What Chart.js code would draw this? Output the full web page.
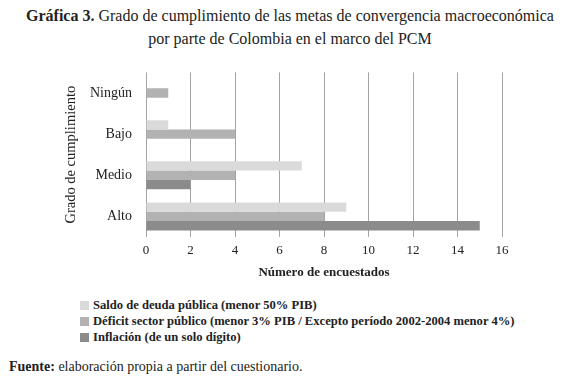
<!DOCTYPE html>
<html>
<head>
<meta charset="utf-8">
<script src="https://cdn.jsdelivr.net/npm/chart.js@4"></script>
<style>
    body { margin: 0; background: #fff; font-family: 'Liberation Serif', serif; color: #222; }
    #wrap { position: relative; width: 580px; height: 384px; }
    #title { position: absolute; top: 4px; left: 0; width: 580px; text-align: center; font-size: 16px; line-height: 23px; }
    #chartBox { position: absolute; left: 0; top: 58px; width: 580px; height: 226px; }
    #legend { position: absolute; left: 80px; top: 297px; font-size: 12.6px; font-weight: bold; line-height: 16px; }
    #legend .sw { display: inline-block; width: 9px; height: 9px; margin-right: 4px; vertical-align: -1px; }
    #source { position: absolute; left: 9px; top: 359px; font-size: 14px; }
</style>
</head>
<body>
<div id="wrap">
    <div id="title"><b>Gráfica 3.</b> Grado de cumplimiento de las metas de convergencia macroeconómica<br>por parte de Colombia en el marco del PCM</div>
    <div id="chartBox"><canvas id="gradoChart"></canvas></div>
    <div id="legend"></div>
    <div id="source"><b>Fuente:</b> elaboración propia a partir del cuestionario.</div>
</div>
<script>
const categorias = ['Ningún', 'Bajo', 'Medio', 'Alto'];
const saldoDeuda = [0, 1, 7, 9];
const deficitSector = [1, 4, 4, 8];
const inflacion = [0, 0, 2, 15];
const xTicks = [0, 2, 4, 6, 8, 10, 12, 14, 16];

const series = [
    { label: 'Saldo de deuda pública (menor 50% PIB)', data: saldoDeuda, color: '#dadada' },
    { label: 'Déficit sector público (menor 3% PIB / Excepto período 2002-2004 menor 4%)', data: deficitSector, color: '#b2b2b2' },
    { label: 'Inflación (de un solo dígito)', data: inflacion, color: '#8b8b8b' }
];

const legendEl = document.getElementById('legend');
series.forEach(s => {
    const row = document.createElement('div');
    row.innerHTML = `<span class="sw" style="background:${s.color}"></span>${s.label}`;
    legendEl.appendChild(row);
});

const ctx = document.getElementById('gradoChart').getContext('2d');
new Chart(ctx, {
    type: 'bar',
    data: {
        labels: categorias,
        datasets: series.map(s => ({
            label: s.label,
            data: s.data,
            backgroundColor: s.color,
            borderWidth: 0,
            categoryPercentage: 0.68,
            barPercentage: 1
        }))
    },
    options: {
        indexAxis: 'y',
        responsive: true,
        maintainAspectRatio: false,
        animation: false,
        layout: {
            padding: { top: 8, right: 78, left: 62, bottom: 0 }
        },
        scales: {
            x: {
                min: 0,
                max: 16,
                afterBuildTicks: function(scale) {
                    scale.ticks = xTicks.map(v => ({ value: v }));
                },
                afterFit: function(scale) {
                    scale.height = 47;
                },
                grid: {
                    color: '#a3a3a3',
                    lineWidth: 1,
                    drawTicks: false
                },
                border: { display: false },
                ticks: {
                    color: '#222',
                    padding: 6,
                    font: { family: 'Liberation Serif', size: 13 }
                },
                title: {
                    display: true,
                    text: 'Número de encuestados',
                    color: '#222',
                    padding: { top: 0, bottom: 4 },
                    font: { family: 'Liberation Serif', size: 13, weight: 'bold' }
                }
            },
            y: {
                afterFit: function(scale) {
                    scale.width = 146 - 62;
                },
                grid: { display: false },
                border: { display: false },
                ticks: {
                    color: '#222',
                    padding: 6,
                    font: { family: 'Liberation Serif', size: 14 }
                },
                title: {
                    display: true,
                    text: 'Grado de cumplimiento',
                    color: '#222',
                    padding: 0,
                    font: { family: 'Liberation Serif', size: 14.5 }
                }
            }
        },
        plugins: {
            legend: { display: false },
            tooltip: { enabled: false }
        }
    }
});
</script>
</body>
</html>
